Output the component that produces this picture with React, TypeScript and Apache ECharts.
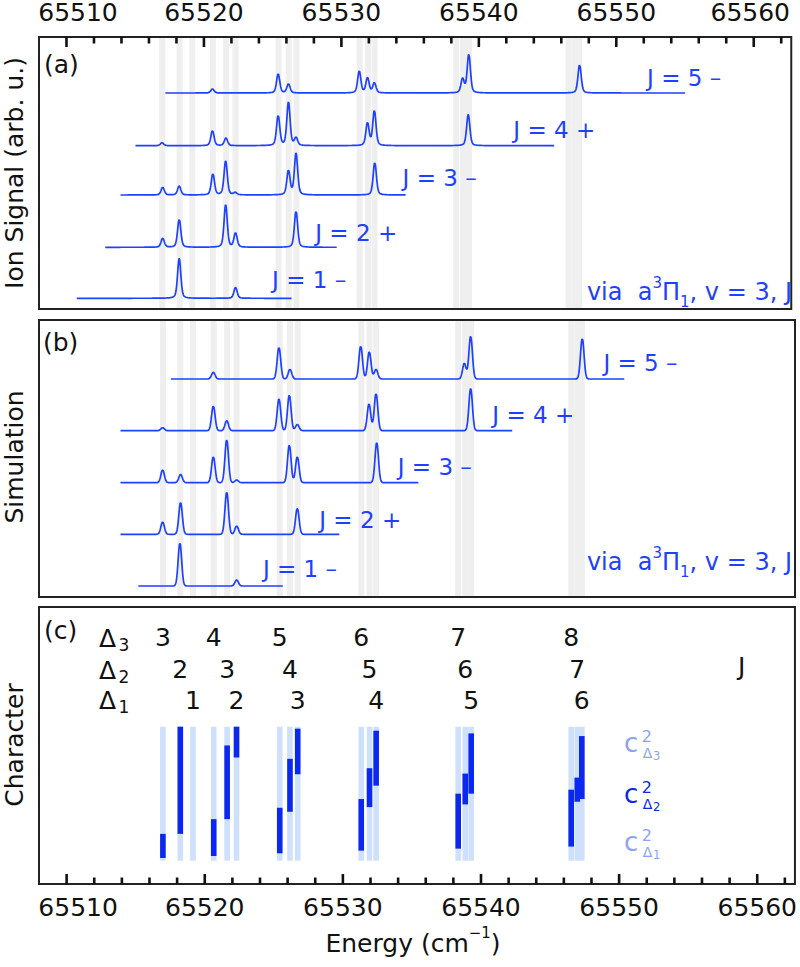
import React, { useEffect, useRef } from "react";
import * as echarts from "echarts";

const FONT = "DejaVu Sans";
const INK = "#111111";
const FRAME = "#222222";
const TICK_COLOR = "#111111";
const TRACE_BLUE = "#1e40ff";
const BAND_GREY = "#efefef";
const COLUMN_BLUE = "#cfe0fc";
const BAR_BLUE = "#0a28f0";
const LEGEND_LIGHT = "#8ca2f6";
const LEGEND_DARK = "#0b26e8";

// Energy axis (cm^-1)
const X_MIN = 65508.0;
const X_MAX = 65562.73;
const MAJOR_TICKS = [65510, 65520, 65530, 65540, 65550, 65560];
const MINOR_TICKS = [
  65512, 65514, 65516, 65518, 65522, 65524, 65526, 65528, 65532, 65534, 65536,
  65538, 65542, 65544, 65546, 65548, 65552, 65554, 65556, 65558, 65562,
];

// Transition energies, each cluster ordered Δ3, Δ2, Δ1
const LINE_ENERGIES = [
  65516.97, 65518.23, 65519.15,
  65520.65, 65521.62, 65522.3,
  65525.43, 65526.17, 65526.73,
  65531.33, 65531.93, 65532.41,
  65538.35, 65538.86, 65539.29,
  65546.53, 65546.97, 65547.3,
];

const J_TEXT = ["J = 1 –", "J = 2 +", "J = 3 –", "J = 4 +", "J = 5 –"];

// (a) measured ion signal: offsets, scan ranges and peaks [energy, height]
const EXP_BASE = [10.7, 61.7, 114, 163.3, 216];
const EXP_SPAN = [
  [65510.75, 65526.41],
  [65512.82, 65529.67],
  [65513.93, 65534.69],
  [65515.02, 65545.48],
  [65517.19, 65555.01],
];
const EXP_PEAKS_J1 = [[65518.2, 40], [65522.3, 11]];
const EXP_PEAKS_J2 = [[65517.0, 9], [65518.2, 28], [65521.58, 42.3], [65522.3, 14], [65526.7, 36.3]];
const EXP_PEAKS_J3 = [
  [65517.0, 7.7], [65518.2, 9], [65520.65, 21], [65521.58, 34], [65522.28, 2.3],
  [65526.15, 24.3], [65526.7, 41.7], [65532.43, 32.7],
];
const EXP_PEAKS_J4 = [
  [65516.95, 3], [65520.62, 15], [65521.6, 7.7], [65525.4, 30], [65526.15, 43.3],
  [65526.7, 7.7], [65531.9, 22.7], [65532.4, 35], [65539.23, 31.3],
];
const EXP_PEAKS_J5 = [
  [65520.62, 4], [65525.4, 19], [65526.15, 9], [65531.3, 21.7], [65531.9, 15],
  [65532.4, 10], [65538.82, 14], [65539.27, 38.7], [65547.33, 28.3],
];
const EXP_LABEL_AT = [
  [65524.96, 29], [65528.1, 76], [65534.45, 131.5], [65542.51, 179], [65552.24, 231],
];

// (b) simulated spectra
const SIM_BASE = [11, 62.7, 114.3, 166.3, 218];
const SIM_SPAN = [
  [65515.19, 65525.7],
  [65513.9, 65529.74],
  [65513.9, 65535.46],
  [65513.9, 65542.3],
  [65517.55, 65550.37],
];
const SIM_PEAKS_J1 = [[65518.2, 42.7], [65522.31, 6]];
const SIM_PEAKS_J2 = [[65516.95, 12.3], [65518.25, 31.7], [65521.59, 42], [65522.31, 8.3], [65526.7, 26]];
const SIM_PEAKS_J3 = [
  [65516.95, 12.7], [65518.25, 8.3], [65520.62, 26], [65521.59, 42.7], [65522.31, 2.7],
  [65526.12, 37.7], [65526.7, 26], [65532.45, 40],
];
const SIM_PEAKS_J4 = [
  [65516.95, 3], [65520.62, 24.7], [65521.59, 10], [65525.37, 31.7], [65526.12, 35.7],
  [65526.7, 6.3], [65531.89, 26.7], [65532.4, 37.3], [65539.25, 42.3],
];
const SIM_PEAKS_J5 = [
  [65520.62, 6.7], [65525.37, 31.7], [65526.17, 9.7], [65531.29, 33], [65531.91, 27.3],
  [65532.4, 9.7], [65538.79, 15.7], [65539.25, 43], [65547.33, 40.7],
];
const SIM_LABEL_AT = [
  [65524.21, 28], [65528.29, 77], [65533.97, 130.3], [65540.82, 182], [65548.86, 234],
];

// (c) character: extent of each coloured bar (null = no bar), same order as LINE_ENERGIES
const CHAR_LOW = [
  0.02, 0.2, null,
  0.035, 0.31, 0.77,
  0.055, 0.365, 0.645,
  0.075, 0.4, 0.56,
  0.09, 0.42, 0.5,
  0.105, 0.44, 0.46,
];
const CHAR_HIGH = [
  0.2, 1.0, null,
  0.31, 0.86, 1.0,
  0.395, 0.76, 0.985,
  0.46, 0.69, 0.97,
  0.5, 0.65, 0.95,
  0.53, 0.62, 0.93,
];
const DELTA3_J = [3, 4, 5, 6, 7, 8];
const DELTA2_J = [2, 3, 4, 5, 6, 7];
const DELTA1_J = [1, 2, 3, 4, 5, 6];

const STEP = 0.02;
const BAND_W = 6;
const COLUMN_W = 5.6;
const ROW_LEVEL = [1.664, 1.423, 1.196];
const TICK_W = 2.6;
const MAJOR_LEN = 10;
const MINOR_LEN = 6.5;

// Mark kinds drawn by panelItem
const K_BAND = 0;
const K_TOP_MAJOR = 1;
const K_TOP_MINOR = 2;
const K_BOTTOM_MAJOR = 3;
const K_BOTTOM_MINOR = 4;
const K_COLUMN = 5;
const K_BAR = 6;

function lineShape(span: number[], base: number, peaks: number[][], fwhm: number, lorentz: number) {
  const sigma = fwhm / 2.3548;
  const gamma = fwhm / 2;
  const xs: number[] = [];
  for (let e = span[0]; e < span[1]; e += STEP) xs.push(e);
  xs.push(span[1]);
  peaks.forEach(([c]) => {
    if (c > span[0] && c < span[1]) xs.push(c);
  });
  xs.sort((a, b) => a - b);
  return xs.map((e) => {
    let y = base;
    for (const [c, h] of peaks) {
      const d = e - c;
      y += h * ((1 - lorentz) * Math.exp(-0.5 * (d / sigma) ** 2) + lorentz / (1 + (d / gamma) ** 2));
    }
    return [e, y];
  });
}

function txt(x: number, y: number, text: string, o: any = {}) {
  return {
    type: "text",
    x,
    y,
    rotation: o.rotation || 0,
    silent: true,
    style: {
      text,
      fill: o.fill || INK,
      fontSize: o.fontSize || 25,
      fontFamily: FONT,
      align: o.align || "left",
      verticalAlign: "middle",
      rich: o.rich,
    },
  };
}

function coefLabel(left: number, cy: number, sub: string, color: string) {
  return [
    txt(left - 1, cy - 2, "c", { fontSize: 26, fill: color }),
    txt(left + 16.7, cy - 9, "2", { fontSize: 16, fill: color }),
    txt(left + 17.7, cy + 8, "Δ", { fontSize: 14, fill: color }),
    txt(left + 28, cy + 10.5, sub, { fontSize: 11.5, fill: color }),
  ];
}

function deltaHeader(cy: number, sub: string) {
  return [txt(99, cy, "Δ", { fontSize: 25 }), txt(118.5, cy + 7, sub, { fontSize: 17 })];
}

const viaRich = {
  m: { fontSize: 24, fontFamily: FONT, fill: TRACE_BLUE, color: TRACE_BLUE, lineHeight: 34, verticalAlign: "middle" },
  sup: { fontSize: 15, fontFamily: FONT, fill: TRACE_BLUE, color: TRACE_BLUE, lineHeight: 15, verticalAlign: "top" },
  sub: { fontSize: 15, fontFamily: FONT, fill: TRACE_BLUE, color: TRACE_BLUE, lineHeight: 15, verticalAlign: "bottom" },
};
const VIA_TEXT = "{m|via  a}{sup|3}{m|Π}{sub|1}{m|, v = 3, J}";

// Bands, frame ticks, character columns and bars, all placed through the axes
const panelItem = (params: any, api: any) => {
  const cs = params.coordSys;
  const x = api.value(0);
  const kind = api.value(1);
  const px = api.coord([x, api.value(2)])[0];
  if (kind === K_BAND) {
    return {
      type: "rect",
      shape: { x: px - BAND_W / 2, y: cs.y + 1, width: BAND_W, height: cs.height - 2 },
      style: { fill: BAND_GREY },
    };
  }
  if (kind >= K_TOP_MAJOR && kind <= K_BOTTOM_MINOR) {
    const len = kind === K_TOP_MAJOR || kind === K_BOTTOM_MAJOR ? MAJOR_LEN : MINOR_LEN;
    const top = kind === K_TOP_MAJOR || kind === K_TOP_MINOR;
    return {
      type: "rect",
      shape: { x: px - TICK_W / 2, y: top ? cs.y : cs.y + cs.height - len, width: TICK_W, height: len },
      style: { fill: TICK_COLOR },
    };
  }
  const lo = api.coord([x, api.value(2)]);
  const hi = api.coord([x, api.value(3)]);
  return {
    type: "rect",
    shape: { x: px - COLUMN_W / 2, y: hi[1], width: COLUMN_W, height: lo[1] - hi[1] },
    style: { fill: kind === K_COLUMN ? COLUMN_BLUE : BAR_BLUE },
  };
};

const textItem = (texts: string[], size: number, color: string, align: string) => (params: any, api: any) => {
  const p = api.coord([api.value(0), api.value(1)]);
  return {
    type: "text",
    x: p[0],
    y: p[1],
    style: {
      text: texts[params.dataIndex],
      fill: color,
      fontSize: size,
      fontFamily: FONT,
      align,
      verticalAlign: "middle",
    },
  };
};

export default function App() {
  const ref = useRef<HTMLDivElement>(null);

  useEffect(() => {
    if (!ref.current) return;
    const chart = echarts.init(ref.current, undefined, { renderer: "svg" });

    const expPeaks = [EXP_PEAKS_J1, EXP_PEAKS_J2, EXP_PEAKS_J3, EXP_PEAKS_J4, EXP_PEAKS_J5];
    const simPeaks = [SIM_PEAKS_J1, SIM_PEAKS_J2, SIM_PEAKS_J3, SIM_PEAKS_J4, SIM_PEAKS_J5];

    const labelStyle = { color: INK, fontSize: 25, fontFamily: FONT, lineHeight: 22 };
    const labelAxis = (gridIndex: number, position: string, margin: number, shiftLast: boolean) => ({
      type: "value",
      gridIndex,
      position,
      min: X_MIN,
      max: X_MAX,
      splitLine: { show: false },
      axisLine: { show: false, onZero: false },
      axisTick: { show: false },
      axisLabel: {
        show: true,
        customValues: MAJOR_TICKS,
        margin,
        ...labelStyle,
        formatter: (v: number) =>
          v === MAJOR_TICKS[0]
            ? `{lead|${v}}`
            : shiftLast && v === MAJOR_TICKS[MAJOR_TICKS.length - 1]
            ? `{tail|${v}}`
            : `{n|${v}}`,
        rich: {
          n: { ...labelStyle },
          lead: { ...labelStyle, padding: [0, 0, 0, 23] },
          tail: { ...labelStyle, padding: [0, 7, 0, 0] },
        },
      },
    });

    const gridBase = { left: 39, right: 5, show: true, borderColor: FRAME, borderWidth: 2, backgroundColor: "transparent" };

    const traceSeries = (data: number[][], xAxisIndex: number, yAxisIndex: number) => ({
      type: "line",
      xAxisIndex,
      yAxisIndex,
      data,
      showSymbol: false,
      symbol: "none",
      silent: true,
      z: 3,
      lineStyle: { color: TRACE_BLUE, width: 1.7 },
    });

    const panelSeries = (data: number[][], xAxisIndex: number, yAxisIndex: number, z: number) => ({
      type: "custom",
      xAxisIndex,
      yAxisIndex,
      z,
      silent: true,
      encode: { x: 0, y: 2 },
      data,
      renderItem: panelItem,
    });

    const bands = LINE_ENERGIES.map((e) => [e, K_BAND, 0, 0]);
    const topTicks = [
      ...MAJOR_TICKS.map((t) => [t, K_TOP_MAJOR, 0, 0]),
      ...MINOR_TICKS.map((t) => [t, K_TOP_MINOR, 0, 0]),
    ];
    const bottomTicks = [
      ...MAJOR_TICKS.map((t) => [t, K_BOTTOM_MAJOR, 0, 0]),
      ...MINOR_TICKS.map((t) => [t, K_BOTTOM_MINOR, 0, 0]),
    ];
    const columns = LINE_ENERGIES.map((e) => [e, K_COLUMN, 0, 1]);
    const bars = LINE_ENERGIES.map((e, i) => [e, K_BAR, CHAR_LOW[i], CHAR_HIGH[i]]).filter(
      (d) => d[2] !== null && d[3] !== null
    ) as number[][];

    const rowData: number[][] = [];
    const rowText: string[] = [];
    for (let k = 0; k < DELTA3_J.length; k++) {
      rowData.push([LINE_ENERGIES[3 * k], ROW_LEVEL[0]]);
      rowText.push(String(DELTA3_J[k]));
      rowData.push([LINE_ENERGIES[3 * k + 1], ROW_LEVEL[1]]);
      rowText.push(String(DELTA2_J[k]));
      rowData.push([LINE_ENERGIES[3 * k + 2], ROW_LEVEL[2]]);
      rowText.push(String(DELTA1_J[k]));
    }

    const option: any = {
      animation: false,
      backgroundColor: "#ffffff",
      grid: [
        { ...gridBase, top: 37, height: 272 },
        { ...gridBase, top: 320, height: 277 },
        { ...gridBase, top: 607, height: 277 },
      ],
      xAxis: [
        labelAxis(0, "top", 13.5, true),
        { type: "value", gridIndex: 1, min: X_MIN, max: X_MAX, show: false, axisLine: { onZero: false } },
        labelAxis(2, "bottom", 12.5, false),
      ],
      yAxis: [
        { type: "value", gridIndex: 0, min: 0, max: 272, show: false, axisLine: { onZero: false } },
        { type: "value", gridIndex: 1, min: 0, max: 277, show: false, axisLine: { onZero: false } },
        { type: "value", gridIndex: 2, min: -0.174, max: 1.893, show: false, axisLine: { onZero: false } },
      ],
      series: [
        panelSeries([...bands, ...topTicks], 0, 0, 1),
        panelSeries(bands, 1, 1, 1),
        panelSeries([...columns, ...bottomTicks], 2, 2, 1),
        panelSeries(bars, 2, 2, 2),
        ...expPeaks.map((pk, i) => traceSeries(lineShape(EXP_SPAN[i], EXP_BASE[i], pk, 0.28, 0.35), 0, 0)),
        ...simPeaks.map((pk, i) => traceSeries(lineShape(SIM_SPAN[i], SIM_BASE[i], pk, 0.3, 0), 1, 1)),
        {
          type: "custom",
          xAxisIndex: 0,
          yAxisIndex: 0,
          z: 4,
          silent: true,
          data: EXP_LABEL_AT,
          renderItem: textItem(J_TEXT, 23, TRACE_BLUE, "left"),
        },
        {
          type: "custom",
          xAxisIndex: 1,
          yAxisIndex: 1,
          z: 4,
          silent: true,
          data: SIM_LABEL_AT,
          renderItem: textItem(J_TEXT, 23, TRACE_BLUE, "left"),
        },
        {
          type: "custom",
          xAxisIndex: 2,
          yAxisIndex: 2,
          z: 4,
          silent: true,
          data: rowData,
          renderItem: textItem(rowText, 25, INK, "center"),
        },
      ],
      graphic: [
        txt(14, 173, "Ion Signal (arb. u.)", { rotation: Math.PI / 2, align: "center" }),
        txt(14, 457, "Simulation", { rotation: Math.PI / 2, align: "center" }),
        txt(14, 745, "Character", { rotation: Math.PI / 2, align: "center" }),
        txt(44, 64, "(a)"),
        txt(43, 342, "(b)"),
        txt(44, 630, "(c)"),
        txt(792, 292, VIA_TEXT, { align: "right", fill: TRACE_BLUE, rich: viaRich }),
        txt(792, 562, VIA_TEXT, { align: "right", fill: TRACE_BLUE, rich: viaRich }),
        ...deltaHeader(638.3, "3"),
        ...deltaHeader(670, "2"),
        ...deltaHeader(700, "1"),
        txt(741.7, 666, "J", { align: "center" }),
        ...coefLabel(625, 745, "3", LEGEND_LIGHT),
        ...coefLabel(625, 796.3, "2", LEGEND_DARK),
        ...coefLabel(625, 844.2, "1", LEGEND_LIGHT),
        txt(413, 943, "{m|Energy (cm}{sup|−1}{m|)}", {
          align: "center",
          rich: {
            m: { fontSize: 25, fontFamily: FONT, fill: INK, color: INK, lineHeight: 36, verticalAlign: "middle" },
            sup: { fontSize: 15, fontFamily: FONT, fill: INK, color: INK, lineHeight: 16, verticalAlign: "top" },
          },
        }),
      ],
    };

    chart.setOption(option);
    return () => chart.dispose();
  }, []);

  return (
    <div
      ref={ref}
      style={{ position: "absolute", left: 0, top: 0, width: 800, height: 967, background: "#ffffff" }}
    />
  );
}
